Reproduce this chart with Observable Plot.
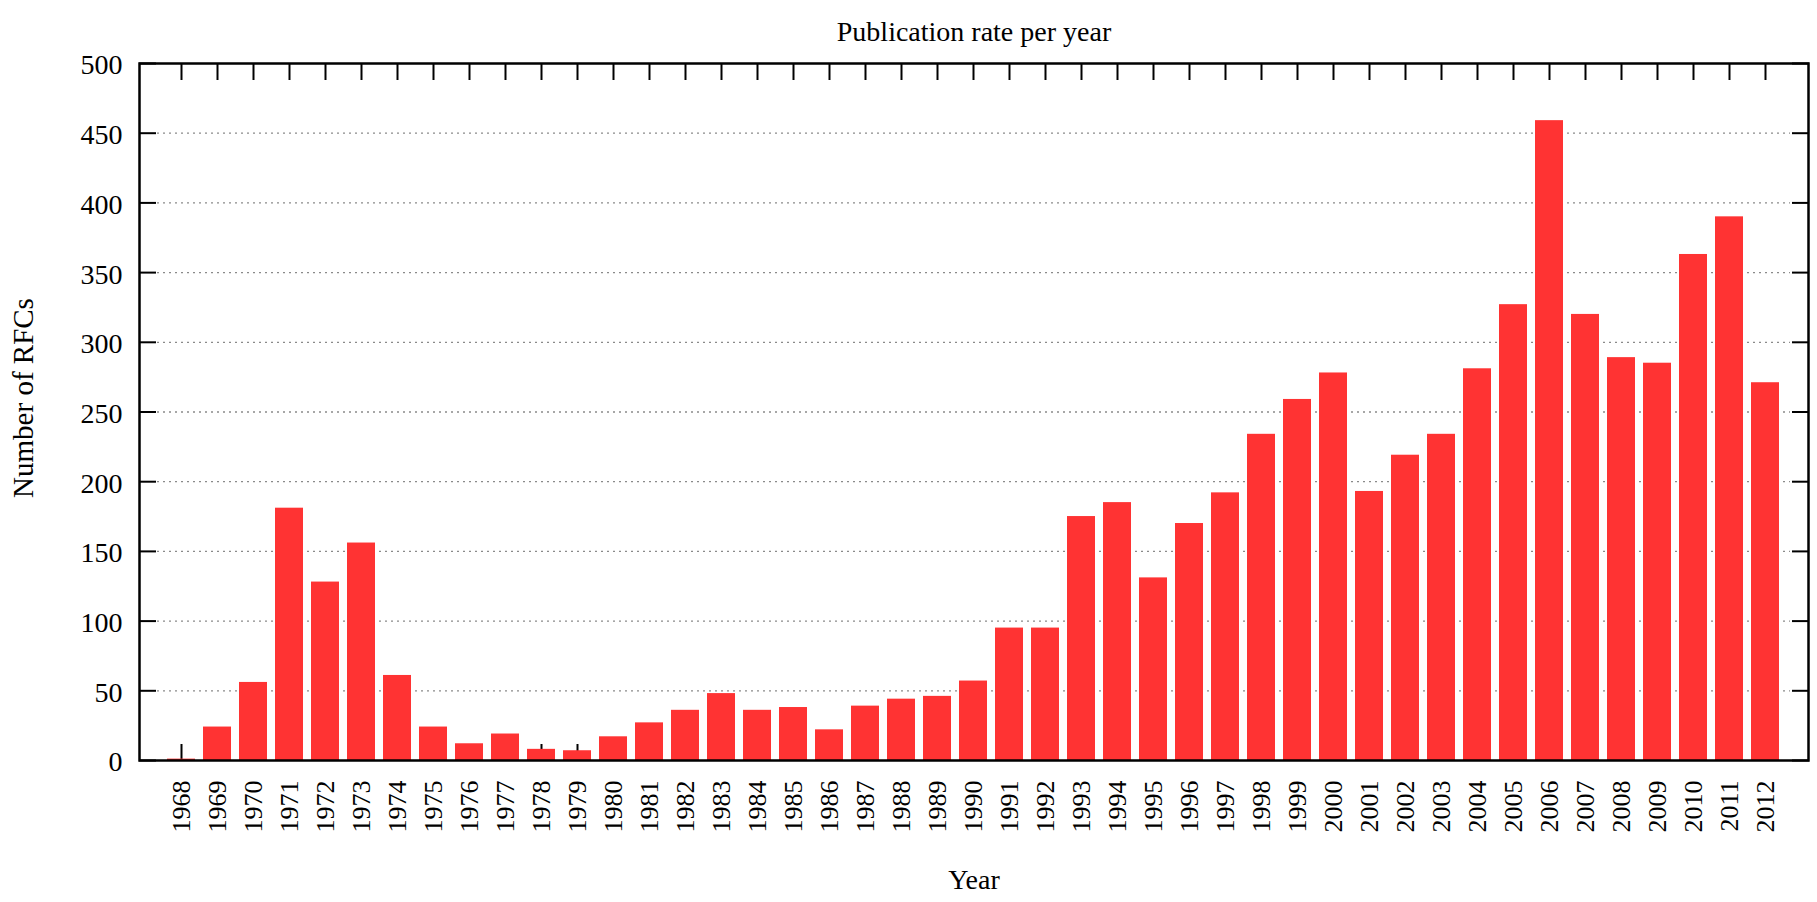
<!DOCTYPE html>
<html><head><meta charset="utf-8">
<script src="https://cdn.jsdelivr.net/npm/d3@7"></script>
<script src="https://cdn.jsdelivr.net/npm/@observablehq/plot@0.6"></script>
<style>body{margin:0;background:#fff}</style>
</head><body><div id="chart"></div>
<script>
const years = [1968,1969,1970,1971,1972,1973,1974,1975,1976,1977,1978,1979,1980,1981,1982,1983,1984,1985,1986,1987,1988,1989,1990,1991,1992,1993,1994,1995,1996,1997,1998,1999,2000,2001,2002,2003,2004,2005,2006,2007,2008,2009,2010,2011,2012];
const rfcCounts = [1,24,56,181,128,156,61,24,12,19,8,7,17,27,36,48,36,38,22,39,44,46,57,95,95,175,185,131,170,192,234,259,278,193,219,234,281,327,459,320,289,285,363,390,271];
const yTicks = [0,50,100,150,200,250,300,350,400,450,500];
const gridTicks = [50,100,150,200,250,300,350,400,450];
const chartTitle = "Publication rate per year";
const xTitle = "Year";
const yTitle = "Number of RFCs";

const data = years.map((year, i) => ({year, count: rfcCounts[i]}));
const font = "'Liberation Serif', 'Times New Roman', serif";
const blank = () => "";

const plot = Plot.plot({
  width: 1817, height: 902,
  marginLeft: 139, marginRight: 9, marginTop: 63, marginBottom: 142,
  style: {fontFamily: font, fontSize: "28px", color: "#000", background: "#fff", overflow: "visible"},
  x: {type: "band", domain: years, paddingInner: 0.22, paddingOuter: 0.61, axis: null},
  y: {domain: [0, 500], axis: null},
  marks: [
    Plot.gridY(gridTicks, {stroke: "#8a8a8a", strokeOpacity: 1, strokeDasharray: "2,4", strokeWidth: 1.3, insetLeft: 18, insetRight: 18}),
    Plot.axisX({anchor: "bottom", tickSize: -16, tickFormat: blank, strokeWidth: 2, label: null}),
    Plot.barY(data, {x: "year", y: "count", fill: "#ff3333"}),
    Plot.axisX({anchor: "top", tickSize: -16, tickFormat: blank, strokeWidth: 2, label: null}),
    Plot.axisX({anchor: "bottom", tickSize: 0, tickPadding: 20, tickRotate: -90, tickFormat: d => String(d), fontSize: 26, label: null}),
    Plot.axisY({anchor: "left", ticks: yTicks, tickSize: -17, tickFormat: blank, strokeWidth: 2, label: null}),
    Plot.axisY({anchor: "right", ticks: yTicks, tickSize: -17, tickFormat: blank, strokeWidth: 2, label: null}),
    Plot.axisY({anchor: "left", ticks: yTicks, tickSize: 0, tickPadding: 17, fontSize: 28, dy: 2, label: null}),
    Plot.frame({stroke: "#000", strokeWidth: 2.5}),
    Plot.text([chartTitle], {frameAnchor: "top", dy: -42, fontSize: 28}),
    Plot.text([xTitle], {frameAnchor: "bottom", dy: 128, fontSize: 28}),
    Plot.text([yTitle], {frameAnchor: "left", textAnchor: "middle", dx: -116, dy: -14, rotate: -90, fontSize: 29})
  ]
});
document.getElementById("chart").appendChild(plot);
</script>
</body></html>
